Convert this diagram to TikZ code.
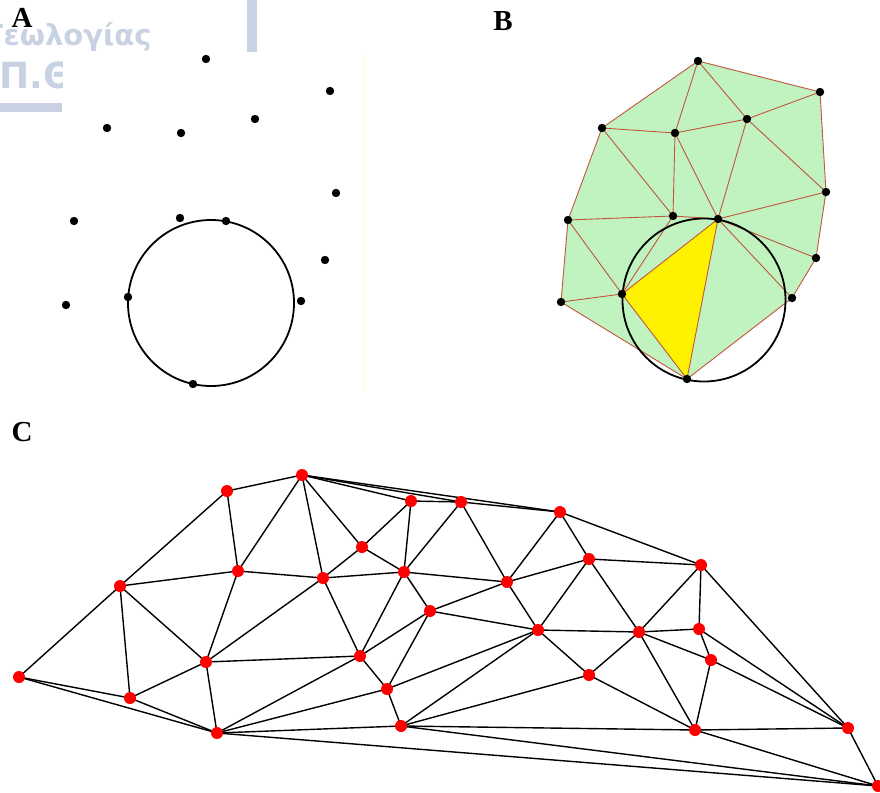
\documentclass[tikz,border=0pt]{standalone}
\usepackage{fontspec}
\setmainfont{Liberation Serif}
\newfontfamily\wmfont{DejaVu Sans}
\usetikzlibrary{calc}

\definecolor{wmblue}{RGB}{200,210,227}
\definecolor{meshgreen}{RGB}{192,243,192}
\definecolor{meshred}{RGB}{196,84,62}
\definecolor{framey}{RGB}{255,255,205}

\begin{document}
\begin{tikzpicture}[x=1pt,y=-1pt,
  panel/.style={inner sep=0pt,font=\fontsize{29}{29}\selectfont\bfseries},
  wm/.style={inner sep=0pt,text=wmblue,font=\wmfont\bfseries\fontsize{29}{29}\selectfont},
  bedge/.style={meshred,line width=0.9},
  cedge/.style={black,line width=1.4}]
  \useasboundingbox (0,0) rectangle (880,792);

  % faded logo behind panel A
  \begin{scope}
    \clip (0,0) rectangle (62,120) (62,0) rectangle (300,52);
    \node[wm,anchor=base west] (wmtop) at (-15,46) {Γεωλογίας};
    \node[wm,anchor=base west,font=\wmfont\bfseries\fontsize{36}{36}\selectfont] (wmbot) at (-1,88) {Π.Θ};
    \fill[wmblue] (0,103) rectangle (62,112);
    \fill[wmblue] (247,0) rectangle (257,53);
  \end{scope}
  \draw[framey,line width=0.8] (363,53) -- (363,392);

  % panel labels
  \node[panel] (labA) at (22,18) {A};
  \node[panel] (labB) at (503,21) {B};
  \node[panel] (labC) at (22,432) {C};

  % A: point set and empty circle
  \foreach \n/\x/\y in {1/206/59,2/330/91,3/255/119,4/107/128,5/181/133,
      6/336/193,7/74/221,8/180/218,9/226/221,10/325/260,11/301/301,
      12/128/297,13/66/305,14/193/384}
    \coordinate (a\n) at (\x,\y);
  \coordinate (oa) at (211,303);
  \draw[line width=1.8] (oa) circle (83);
  \foreach \n in {1,...,14}
    \fill (a\n) circle (4.2);

  % B: triangulation
  \foreach \n/\x/\y in {1/698/61,2/820/92,3/747/119,4/602/128,5/675/133,
      6/826/192,7/568/220,8/673/216,9/718/219,10/816/258,11/792/298,
      12/622/294,13/561/302,14/687/379}
    \coordinate (b\n) at (\x,\y);
  \fill[meshgreen] (b1) -- (b2) -- (b6) -- (b10) -- (b11) -- (b14) -- (b13)
    -- (b7) -- (b4) -- cycle;
  \fill[yellow] (b12) -- (b9) -- (b14) -- cycle;
  \foreach \p/\q in {1/2,1/3,1/4,1/5,2/3,2/6,3/5,3/6,3/9,4/5,4/7,4/8,5/8,
      5/9,6/9,6/10,7/8,7/12,7/13,8/9,8/12,9/10,9/11,9/12,9/14,10/11,
      11/14,12/13,12/14,13/14}
    \draw[bedge] (b\p) -- (b\q);
  \coordinate (ob) at (704,300);
  \draw[line width=1.8] (ob) circle (81.5);
  \foreach \n in {1,...,14}
    \fill (b\n) circle (4.2);

  % C: larger mesh
  \foreach \n/\x/\y in {1/19/677,2/120/586,3/227/491,4/302/475,5/130/698,
      6/206/662,7/217/733,8/238/571,9/323/578,10/362/547,11/411/501,
      12/404/572,13/360/656,14/430/611,15/387/689,16/401/726,17/461/502,
      18/560/512,19/589/559,20/701/565,21/507/582,22/538/630,23/639/632,
      24/699/629,25/711/660,26/589/675,27/695/730,28/848/728,29/878/786}
    \coordinate (c\n) at (\x,\y);
  \foreach \p/\q in {1/2,1/5,1/7,2/3,2/5,2/6,2/8,3/4,3/8,4/8,4/9,4/10,
      4/11,4/17,4/18,5/6,5/7,6/7,6/8,6/9,6/13,7/13,7/15,7/16,7/29,8/9,
      9/10,9/12,9/13,10/11,10/12,11/12,11/17,12/13,12/14,12/17,12/21,
      13/14,13/15,14/15,14/21,14/22,15/16,15/22,16/22,16/26,16/27,16/29,
      17/18,17/21,18/19,18/20,18/21,19/20,19/21,19/22,19/23,20/23,20/24,
      20/28,21/22,22/23,22/26,23/24,23/25,23/26,23/27,24/25,24/28,25/27,
      25/28,26/27,27/28,27/29,28/29}
    \draw[cedge] (c\p) -- (c\q);
  \foreach \n in {1,...,29}
    \fill[red] (c\n) circle (6);
\end{tikzpicture}
\end{document}
